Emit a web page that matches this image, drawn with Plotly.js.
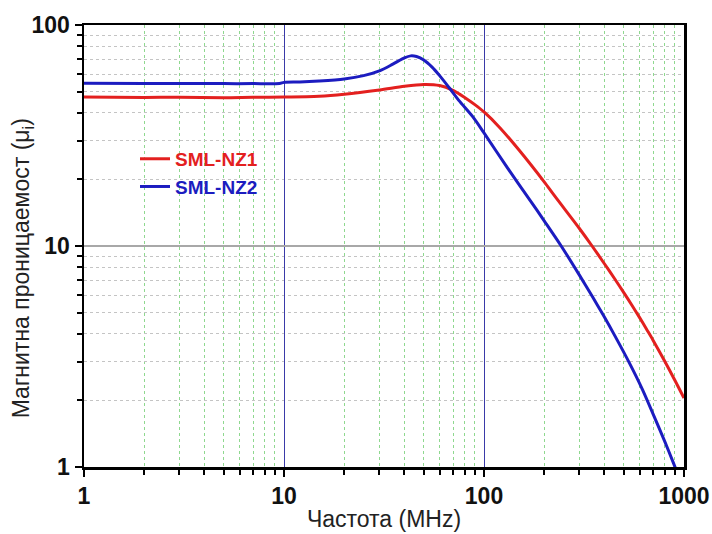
<!DOCTYPE html>
<html>
<head>
<meta charset="utf-8">
<script src="https://cdn.plot.ly/plotly-3.0.1.min.js"></script>
<style>html,body{margin:0;padding:0;background:#fff}#chart{width:712px;height:534px}</style>
</head>
<body>
<div id="chart"></div>
<script>
// Frequency (MHz) and permeability values
var freqNZ1 = [1, 2, 3, 5, 7, 10, 15, 20, 30, 40, 50, 60, 70, 80, 90, 100, 120, 150, 200, 226, 300, 347, 400, 450, 500, 550, 600, 650, 700, 800, 900, 1000];
var muNZ1   = [47.2, 47.0, 47.1, 46.9, 47.1, 47.2, 47.6, 48.6, 50.8, 52.8, 53.8, 53.2, 50.6, 47.0, 43.6, 40.4, 34.3, 27.1, 19.5, 16.8, 12.0, 10.0, 8.31, 7.11, 6.15, 5.38, 4.74, 4.20, 3.75, 3.02, 2.47, 2.05];

var freqNZ2 = [1, 2, 3, 5, 7, 9.5, 10, 12, 15, 20, 25, 30, 35, 40, 43, 46, 50, 55, 60, 67, 75, 88, 100, 130, 170, 200, 245, 300, 350, 394, 450, 537, 620, 700, 800, 890, 910];
var muNZ2   = [54.5, 54.3, 54.4, 54.3, 54.3, 54.4, 55.0, 55.2, 55.8, 57.0, 59.0, 62.0, 66.5, 71.0, 72.5, 72.0, 69.5, 64.5, 59.0, 52.0, 45.5, 38.4, 32.5, 22.8, 16.1, 13.0, 9.9, 7.38, 5.86, 4.88, 3.94, 2.92, 2.24, 1.74, 1.31, 1.03, 0.98];

var seriesNames = ['SML-NZ1', 'SML-NZ2'];
var seriesColors = ['#e3201f', '#1c1cc0'];

var xMajor = [1, 10, 100, 1000];
var xMinor = [2,3,4,5,6,7,8,9,20,30,40,50,60,70,80,90,200,300,400,500,600,700,800,900];
var yMajor = [1, 10, 100];
var yMinor = [2,3,4,5,6,7,8,9,20,30,40,50,60,70,80,90];

var xTitle = 'Частота (MHz)';
var yTitle = 'Магнитна проницаемост (μ<sub>i</sub>)';

var FONT = 'Arial, "Liberation Sans", sans-serif';

var traces = [
  {x: freqNZ1, y: muNZ1, type: 'scatter', mode: 'lines', line: {color: seriesColors[0], width: 3, shape: 'spline', smoothing: 0.8},
   name: '<span style="color:' + seriesColors[0] + '">' + seriesNames[0] + '</span>'},
  {x: freqNZ2, y: muNZ2, type: 'scatter', mode: 'lines', line: {color: seriesColors[1], width: 3, shape: 'spline', smoothing: 0.8},
   name: '<span style="color:' + seriesColors[1] + '">' + seriesNames[1] + '</span>'}
];

var layout = {
  width: 712, height: 534,
  margin: {l: 84, r: 28, t: 25, b: 67},
  paper_bgcolor: '#fff', plot_bgcolor: '#fff',
  showlegend: true,
  legend: {x: 0.085, y: 0.74, xanchor: 'left', yanchor: 'top', bgcolor: 'rgba(0,0,0,0)',
           font: {family: FONT, size: 19, weight: 'bold'}, tracegroupgap: 0},
  xaxis: {
    type: 'log', range: [0, 3], tickmode: 'array', tickvals: xMajor, ticktext: xMajor.map(String),
    ticks: 'outside', ticklen: 7, tickwidth: 2, tickcolor: '#000',
    showline: true, linecolor: '#000', linewidth: 2.5, mirror: true,
    showgrid: true, gridcolor: '#3a3aa8', gridwidth: 1,
    tickfont: {family: FONT, size: 23, weight: 'bold', color: '#111'},
    minor: {tickmode: 'array', tickvals: xMinor, ticks: 'outside', ticklen: 5, tickwidth: 2, tickcolor: '#000',
            showgrid: true, gridcolor: '#8fd88f', griddash: 'dot', gridwidth: 1},
    title: {text: xTitle, font: {family: FONT, size: 23, color: '#222'}, standoff: 3},
    zeroline: false
  },
  yaxis: {
    type: 'log', range: [0, 2], tickmode: 'array', tickvals: yMajor, ticktext: yMajor.map(String),
    ticks: 'outside', ticklen: 7, tickwidth: 2, tickcolor: '#000',
    showline: true, linecolor: '#000', linewidth: 2.5, mirror: true,
    showgrid: true, gridcolor: '#a8a8a8', gridwidth: 1.5,
    tickfont: {family: FONT, size: 23, weight: 'bold', color: '#111'},
    minor: {tickmode: 'array', tickvals: yMinor, ticks: 'outside', ticklen: 5, tickwidth: 2, tickcolor: '#000',
            showgrid: true, gridcolor: '#c4c4c4', griddash: 'dot', gridwidth: 1},
    zeroline: false
  },
  annotations: [
    {text: yTitle, textangle: -90, xref: 'paper', yref: 'paper', x: -0.103, y: 0.45,
     xanchor: 'center', yanchor: 'middle', showarrow: false,
     font: {family: FONT, size: 23, color: '#222'}}
  ]
};

Plotly.newPlot('chart', traces, layout, {displayModeBar: false, staticPlot: true});
</script>
</body>
</html>
